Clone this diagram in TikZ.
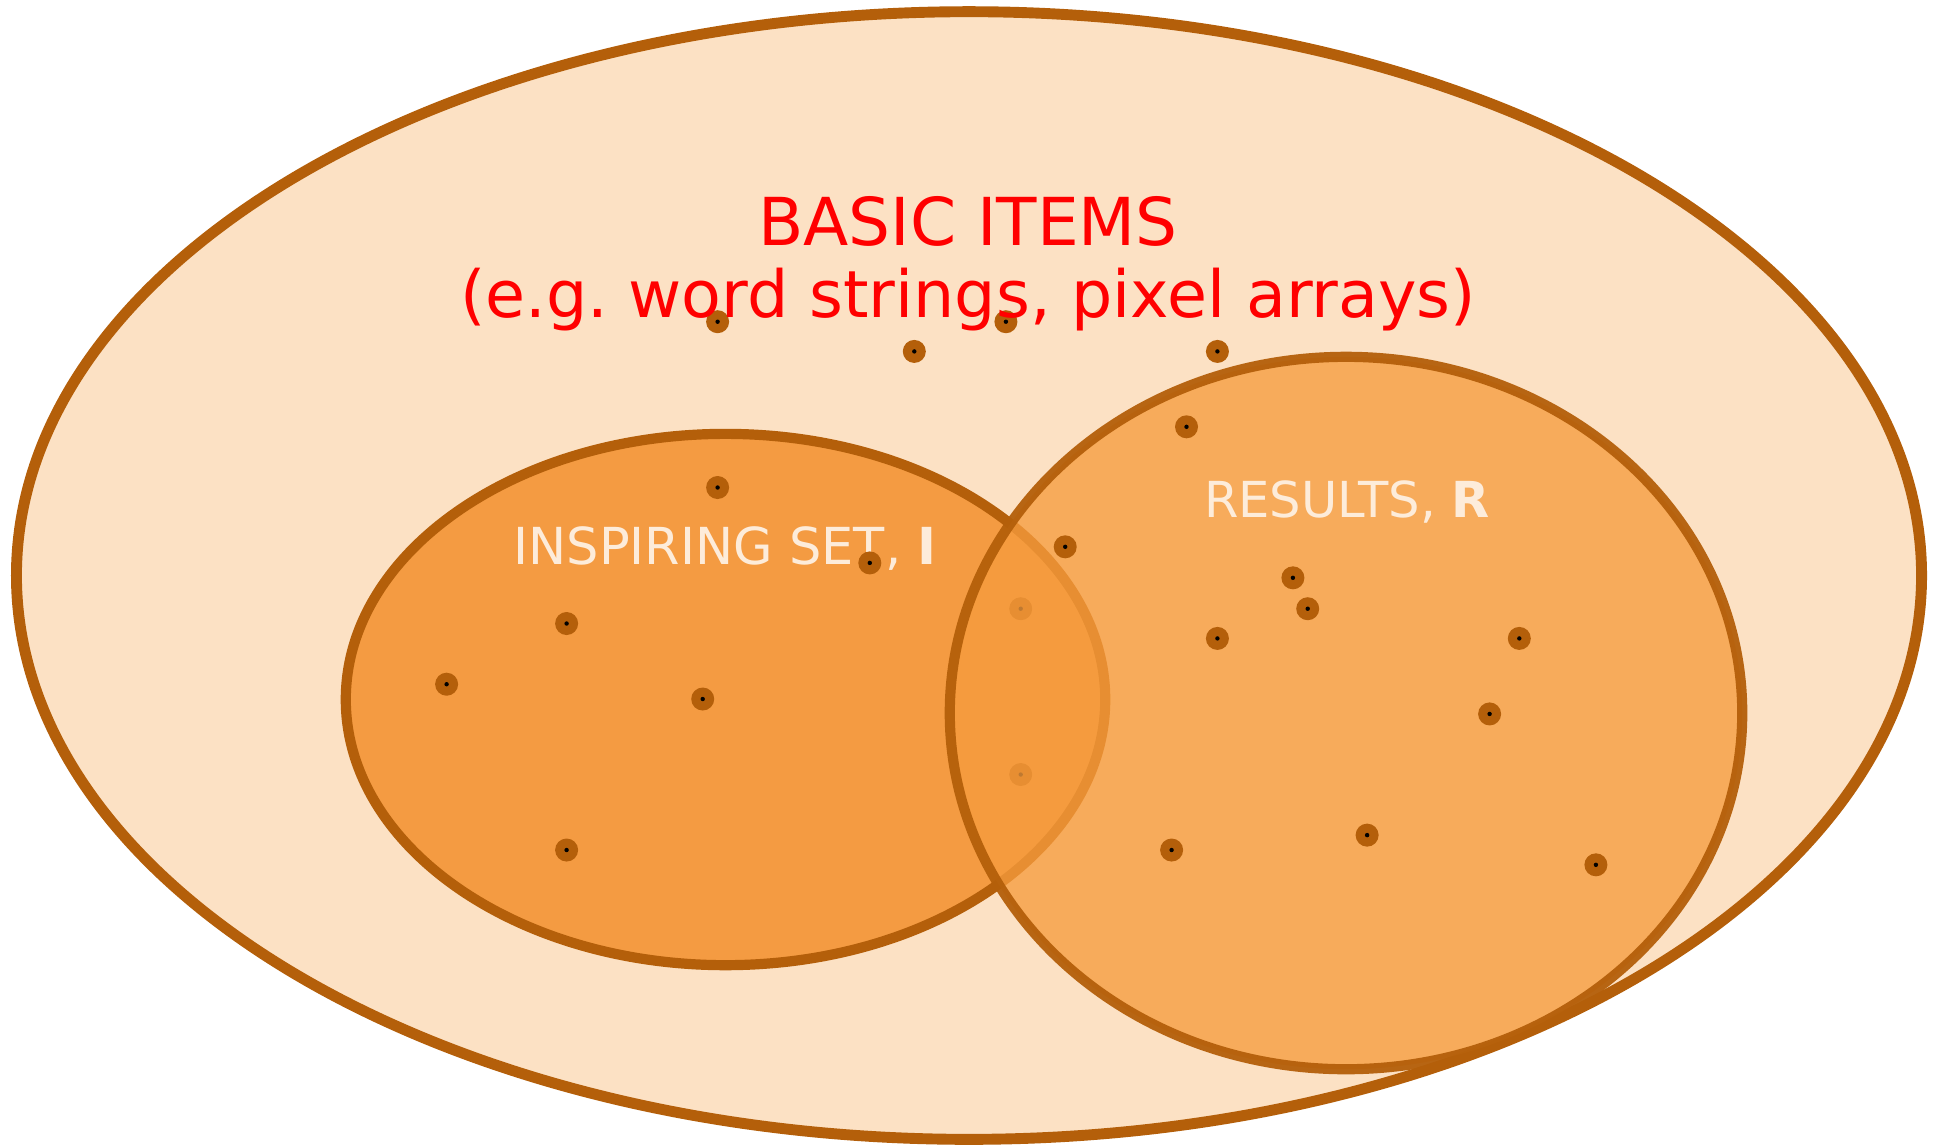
\documentclass[tikz,border=0pt]{standalone}
\usepackage{fontspec}
\setmainfont{DejaVu Sans}
\usepackage{tikz}
\usetikzlibrary{positioning}

\definecolor{rim}{RGB}{180,95,10}
\definecolor{paper}{RGB}{252,225,196}
\definecolor{inspfill}{RGB}{244,150,55}
\definecolor{resfill}{RGB}{246,156,62}
\definecolor{labelred}{RGB}{255,0,0}
\definecolor{setlabel}{RGB}{253,236,218}

\tikzset{
  itemdot/.style={circle,fill=rim,minimum size=0.23cm,inner sep=0pt,
    path picture={\fill[black] (path picture bounding box.center) circle (0.022cm);}},
  setname/.style={text=setlabel,anchor=base,inner sep=0pt}
}

\begin{document}
\begin{tikzpicture}[x=0.01cm,y=-0.01cm,every node/.style={inner sep=0pt}]
  \useasboundingbox (0,0) rectangle (1940,1147);
  % universe of items
  \draw[rim,line width=3.1pt,fill=paper] (969,575.5) ellipse [x radius=9.52cm,y radius=5.635cm];
  % inspiring set
  \draw[rim,line width=2.9pt,fill=inspfill,fill opacity=0.92] (725.5,699.5) ellipse [x radius=3.795cm,y radius=2.655cm];
  \node[setname,font=\fontsize{14.5}{17}\selectfont] (insp) at (725,564) {INSPIRING SET, \textbf{I}};
  % items lying in both sets
  \foreach \px/\py [count=\k] in {1020.7/608.7,1020.7/774.5}
    \node[itemdot] (lens\k) at (\px,\py) {};
  % results
  \draw[rim,line width=2.9pt,draw opacity=0.95,fill=resfill,fill opacity=0.78] (1346,713) ellipse [x radius=3.96cm,y radius=3.56cm];
  \foreach \px/\py [count=\k] in {717.6/321.7,914.3/351.4,1005.9/321.7,1217.4/351.4,1186.5/426.8,
      717.6/487.5,869.8/562.9,1065.2/546.8,1292.9/577.8,1307.7/608.7,566.6/623.5,1217.4/638.4,
      1519.3/638.4,446.6/684.2,702.7/699.0,1489.6/713.9,566.6/850,1171.6/850,1367.1/835.1,1595.9/864.8}
    \node[itemdot] (item\k) at (\px,\py) {};
  \node[setname,font=\fontsize{14.1}{17}\selectfont] (res) at (1347,517) {RESULTS, \textbf{R}};
  \node[text=labelred,font=\fontsize{18.8}{22}\selectfont,anchor=base] (basic) at (968,245) {BASIC ITEMS};
  \node[text=labelred,font=\fontsize{18.5}{22}\selectfont,anchor=base] (examples) at (968,317) {(e.g.\ word strings, pixel arrays)};
\end{tikzpicture}
\end{document}
